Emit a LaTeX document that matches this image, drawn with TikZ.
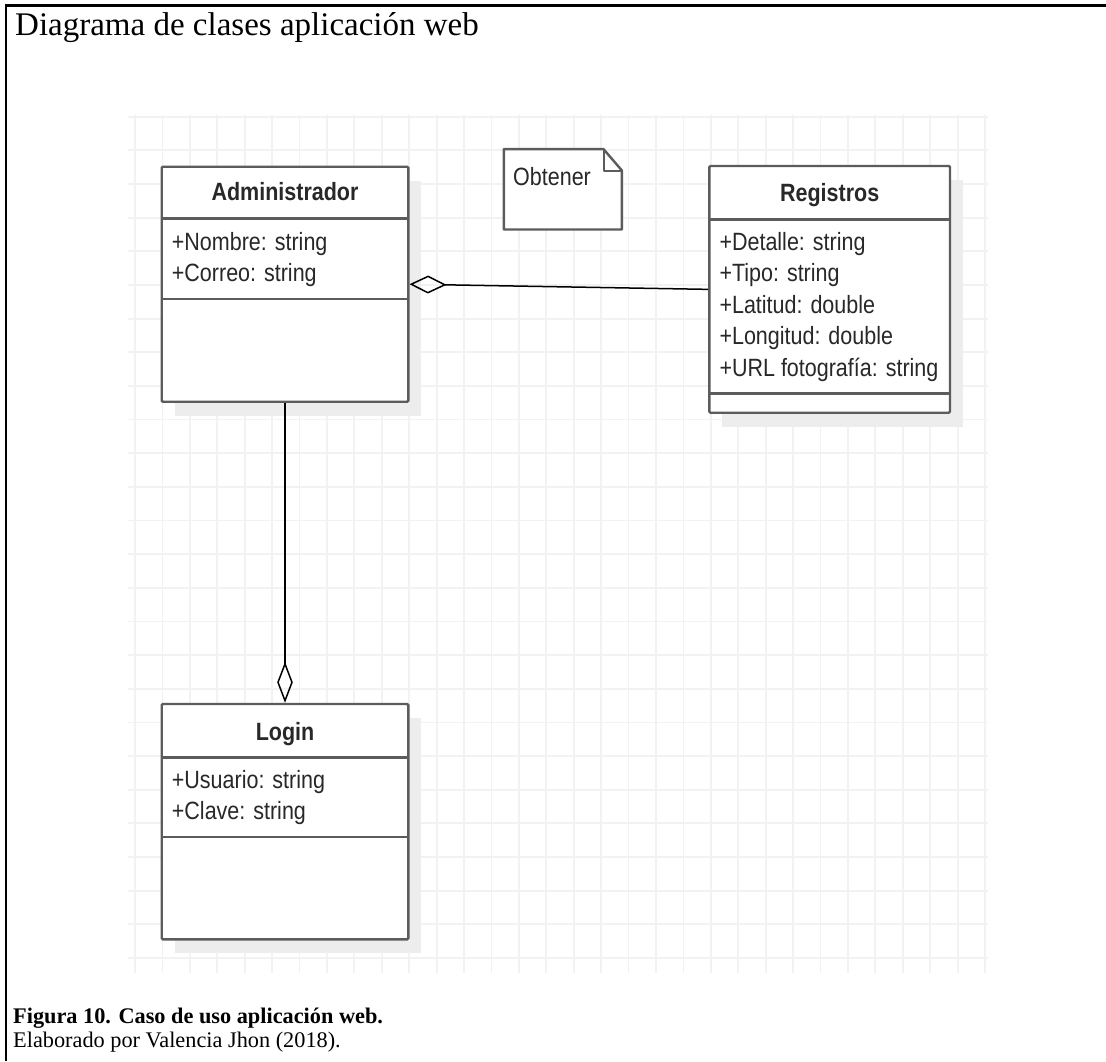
\documentclass[tikz,border=0pt]{standalone}
\usepackage{fontspec}
\setmainfont{Liberation Serif}
\newfontfamily\umlfont[FakeStretch=0.86]{Liberation Sans}
\usetikzlibrary{arrows.meta}

\definecolor{gridc}{RGB}{242,242,242}
\definecolor{shadowc}{RGB}{237,237,237}
\definecolor{boxc}{RGB}{92,92,92}
\definecolor{txtc}{RGB}{40,40,40}

\begin{document}
\begin{tikzpicture}[x=1pt,y=-1pt,
  classbox/.style={draw=boxc, line width=2.4pt, fill=white, rounded corners=1.2pt, inner sep=0pt},
  shadowbox/.style={fill=shadowc, draw=none},
  sepline/.style={draw=boxc, line width=2.4pt},
  cname/.style={font=\umlfont\fontsize{25}{30}\selectfont\bfseries, text=txtc, inner sep=0pt, anchor=base},
  attr/.style={font=\umlfont\fontsize{25}{30}\selectfont, text=txtc, inner sep=0pt, anchor=base west},
  gridline/.style={draw=gridc, line width=1.8pt},
  assoc/.style={draw=black, line width=1.5pt},
  serif/.style={inner sep=0pt, anchor=base west}
]
\useasboundingbox (0,0) rectangle (1106,1061);
\fill[white] (0,0) rectangle (1106,1061);

% frame of the figure
\draw[line width=2.2pt] (6,1061) -- (6,5.5) -- (1106,5.5);

% heading and caption
\node[serif, font=\fontsize{33}{38}\selectfont] (title) at (15,35) {Diagrama de clases aplicación web};
\node[serif, font=\fontsize{22.3}{26}\selectfont\bfseries] (cap) at (13,1023) {Figura 10. Caso de uso aplicación web.};
\node[serif, font=\fontsize{22.3}{26}\selectfont] (credit) at (13,1047) {Elaborado por Valencia Jhon (2018).};

% drawing grid
\foreach \i in {0,...,31} {
  \draw[gridline] ({135+27.42*\i},115) -- ({135+27.42*\i},973);
}
\foreach \j in {0,...,25} {
  \draw[gridline] (128,{116.7+33.65*\j}) -- (988,{116.7+33.65*\j});
}

% shadows
\fill[shadowbox] (174.7,180.7) rectangle (421.3,415.7);
\fill[shadowbox] (722.3,180) rectangle (963,426.7);
\fill[shadowbox] (174.7,718) rectangle (421.3,953.3);

% class Administrador
\node[classbox, minimum width=246.6pt, minimum height=235pt] (adm) at (285,284.2) {};
\draw[sepline] (161.7,218.3) -- (408.3,218.3);
\draw[sepline] (161.7,299) -- (408.3,299);
\node[cname] (admname) at (285,200.7) {Administrador};
\node[attr] (adm1) at (171.7,250.7) {+Nombre: string};
\node[attr] (adm2) at (171.7,281.7) {+Correo: string};

% class Registros
\node[classbox, minimum width=240.7pt, minimum height=246.7pt] (reg) at (829.65,289.35) {};
\draw[sepline] (709.3,219.3) -- (950,219.3);
\draw[sepline] (709.3,393.3) -- (950,393.3);
\node[cname] (regname) at (829.65,201.7) {Registros};
\node[attr] (reg1) at (719.3,250) {+Detalle: string};
\node[attr] (reg2) at (719.3,281.5) {+Tipo: string};
\node[attr] (reg3) at (719.3,313) {+Latitud: double};
\node[attr] (reg4) at (719.3,344.5) {+Longitud: double};
\node[attr] (reg5) at (719.3,376) {+URL fotografía: string};

% class Login
\node[classbox, minimum width=246.6pt, minimum height=235.3pt] (login) at (285,821.65) {};
\draw[sepline] (161.7,757.3) -- (408.3,757.3);
\draw[sepline] (161.7,836.7) -- (408.3,836.7);
\node[cname] (loginname) at (285,740) {Login};
\node[attr] (login1) at (171.7,788.3) {+Usuario: string};
\node[attr] (login2) at (171.7,819.3) {+Clave: string};

% note with folded corner
\node[minimum width=117.7pt, minimum height=80pt, inner sep=0pt] (note) at (562.85,189.3) {};
\draw[draw=boxc, line width=2.4pt, fill=white, line join=round]
  (note.north west) -- ([xshift=-18.4pt]note.north east) -- ([yshift=-21.4pt]note.north east)
  -- (note.south east) -- (note.south west) -- cycle;
\draw[draw=boxc, line width=2pt, line join=round]
  ([xshift=-18.4pt]note.north east) -- ([xshift=-18.4pt,yshift=-21.4pt]note.north east) -- ([yshift=-21.4pt]note.north east);
\node[attr] (notetext) at (513,185) {Obtener};

% aggregations
\draw[assoc, -{Diamond[open, length=37pt, width=18pt, line width=1.5pt]}] (reg.west) -- (adm.east);
\draw[assoc, -{Diamond[open, length=41pt, width=15.6pt, line width=1.5pt]}] (adm.south) -- (login.north);
\end{tikzpicture}
\end{document}
